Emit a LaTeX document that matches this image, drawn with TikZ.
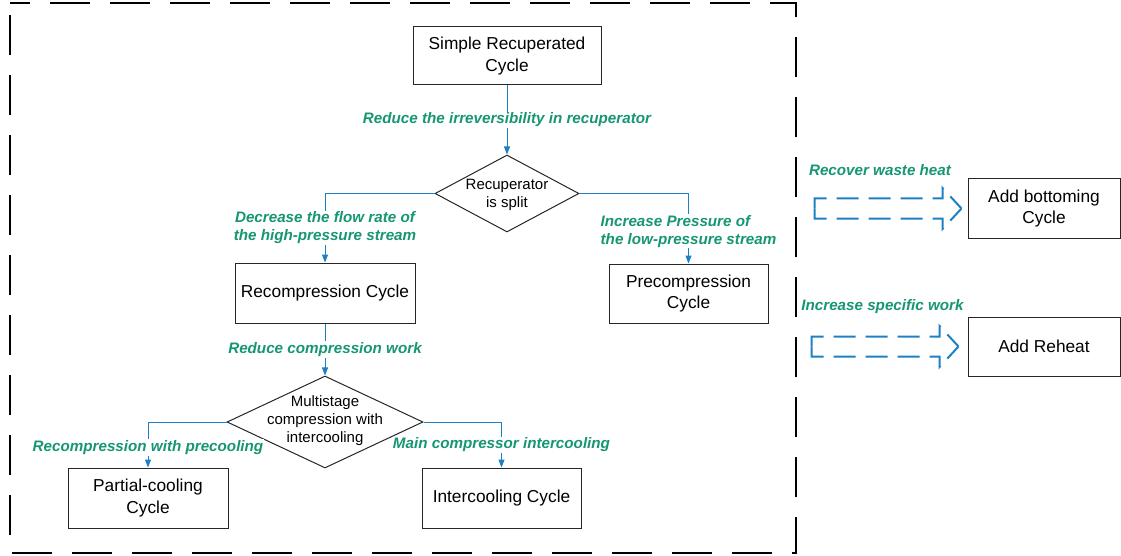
\documentclass[tikz,border=0pt]{standalone}
\usepackage{fontspec}
\setmainfont{Liberation Sans}
\usetikzlibrary{shapes.geometric,arrows.meta}
\definecolor{flowblue}{RGB}{28,128,196}
\definecolor{notegreen}{RGB}{22,150,115}
\tikzset{
  cycbox/.style={draw=black!85, line width=1pt, align=center, inner sep=2pt,
    font=\fontsize{17.3}{21.6}\selectfont},
  decision/.style={draw=black!85, line width=1pt, diamond, inner sep=0pt},
  dtext/.style={align=center, inner sep=0pt, font=\fontsize{15}{18.3}\selectfont},
  flow/.style={draw=flowblue, line width=1pt, -{Triangle[length=8pt,width=6pt]}},
  note/.style={text=notegreen, align=center, fill=white, inner sep=1pt,
    font=\fontsize{15.2}{18}\selectfont\bfseries\itshape},
  hollow/.style={draw=flowblue, line width=2pt, dash pattern=on 22pt off 10pt},
}
\begin{document}
\begin{tikzpicture}[x=1pt, y=-1pt]
\useasboundingbox (0,0) rectangle (1121,556);

% frame round the cycle family
\draw [line width=1.6pt, dash pattern=on 40pt off 20pt, dash phase=20pt]
     (10,3) -- (796,3) -- (796,553) -- (10,553) -- cycle;

% cycles
\node [cycbox, minimum width=188pt, minimum height=58pt] (simple) at (507,56) {Simple Recuperated\\Cycle};
\node [cycbox, minimum width=180pt, minimum height=60pt] (recomp) at (325,293) {Recompression Cycle};
\node [cycbox, minimum width=159pt, minimum height=59pt] (precomp) at (688.5,293.5) {Precompression\\Cycle};
\node [cycbox, minimum width=160pt, minimum height=60pt] (partial) at (148,498) {Partial-cooling\\Cycle};
\node [cycbox, minimum width=159pt, minimum height=60pt] (intercool) at (501.5,498) {Intercooling Cycle};
\node [cycbox, minimum width=152pt, minimum height=59pt] (bottoming) at (1044,208.5) {Add bottoming\\Cycle};
\node [cycbox, minimum width=152pt, minimum height=59pt] (reheat) at (1044,346.5) {Add Reheat};

% decisions
\node [decision, minimum width=144pt, minimum height=77pt,
       label={[dtext, yshift=-1.5pt]center:Recuperator\\is split}] (split) at (507,193.5) {};
\node [decision, minimum width=196pt, minimum height=92pt,
       label={[dtext, yshift=1.5pt]center:Multistage\\compression with\\intercooling}] (multi) at (325,422) {};

% flow
\draw [flow] (simple) -- node[note]{Reduce the irreversibility in recuperator} (split);
\draw [flow] (split.west) -| node[note, pos=0.75]{Decrease the flow rate of\\the high-pressure stream} (recomp.north);
\draw [flow] (split.east) -| node[note, align=left, pos=0.77]{Increase Pressure of\\the low-pressure stream} (precomp.north);
\draw [flow] (recomp) -- node[note]{Reduce compression work} (multi);
\draw [flow] (multi.west) -| node[note, pos=0.78]{Recompression with precooling} (partial.north);
\draw [flow] (multi.east) -| node[note, pos=0.75]{Main compressor intercooling} (intercool.north);

% add-ons
\path (bottoming.west) ++(-6,0) coordinate (tipA) ++(-147,0) coordinate (tailA);
\draw [hollow] (tailA) -- ++(0,-10) -- ++(128,0) -- ++(0,-10.5) -- (tipA);
\draw [hollow] (tailA) -- ++(0,10) -- ++(128,0) -- ++(0,10.5) -- (tipA);
\node [note, fill=none] (wasteheat) at (880,170) {Recover waste heat};

\path (reheat.west) ++(-9,0) coordinate (tipB) ++(-147,0) coordinate (tailB);
\draw [hollow] (tailB) -- ++(0,-10) -- ++(128,0) -- ++(0,-10.5) -- (tipB);
\draw [hollow] (tailB) -- ++(0,10) -- ++(128,0) -- ++(0,10.5) -- (tipB);
\node [note, fill=none] (specwork) at (882.5,306.5) {Increase specific work};

\end{tikzpicture}
\end{document}
